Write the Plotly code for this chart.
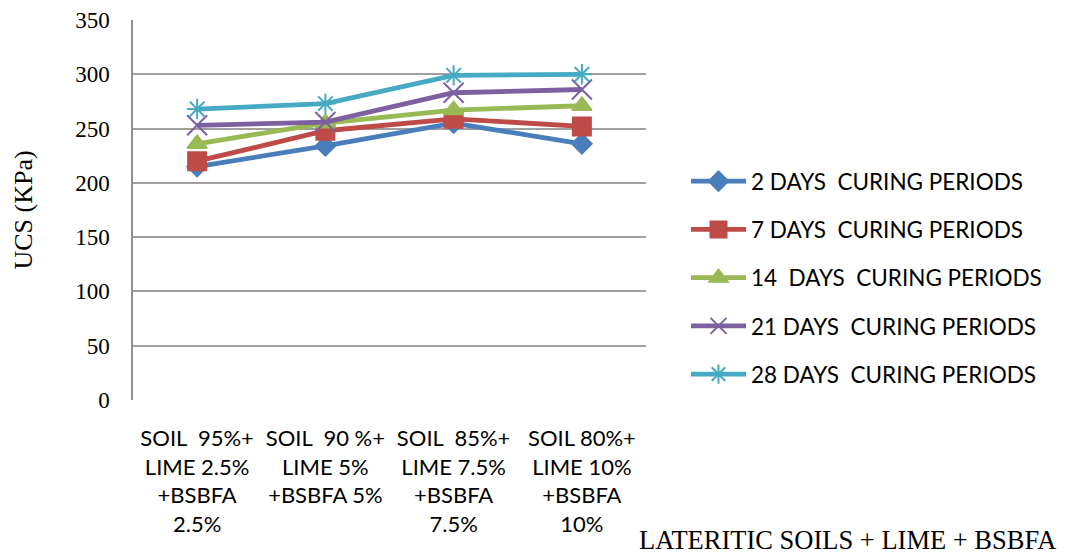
import plotly.graph_objects as go

categories = [
    "SOIL\u00a0 95%+<br>LIME 2.5%<br>+BSBFA<br>2.5%",
    "SOIL\u00a0 90 %+<br>LIME 5%<br>+BSBFA 5%",
    "SOIL\u00a0 85%+<br>LIME 7.5%<br>+BSBFA<br>7.5%",
    "SOIL 80%+<br>LIME 10%<br>+BSBFA<br>10%",
]
series_names = [
    "2 DAYS\u00a0 CURING PERIODS",
    "7 DAYS\u00a0 CURING PERIODS",
    "14\u00a0 DAYS\u00a0 CURING PERIODS",
    "21 DAYS\u00a0 CURING PERIODS",
    "28 DAYS\u00a0 CURING PERIODS",
]
days2 = [215, 234, 255, 236]
days7 = [220, 248, 259, 252]
days14 = [236, 255, 267, 271]
days21 = [253, 256, 283, 286]
days28 = [268, 273, 299, 300]
y_ticks = [0, 50, 100, 150, 200, 250, 300, 350]

values = [days2, days7, days14, days21, days28]
colors = ["#4a7ebb", "#be4b48", "#98b954", "#7d60a0", "#46aac5"]
symbols = ["diamond", "square", "triangle-up", "x-thin-open", "asterisk-open"]
sizes = [15, 18, 17, 20, 17]

fig = go.Figure()
for i, (name, vals) in enumerate(zip(series_names, values)):
    fig.add_trace(go.Scatter(
        x=categories, y=vals, name=name, mode="lines+markers",
        legendgroup=f"g{i}",
        line=dict(color=colors[i], width=4.8),
        marker=dict(symbol=symbols[i], size=sizes[i], color=colors[i],
                    line=dict(color=colors[i], width=2)),
    ))

fig.update_layout(
    width=1066, height=558,
    margin=dict(l=133, r=420, t=20, b=158, autoexpand=False),
    plot_bgcolor="white", paper_bgcolor="white",
    showlegend=True,
    legend=dict(
        x=(686 - 133) / 513, xanchor="left", y=(400 - 160) / 380, yanchor="top",
        font=dict(family="Lato", size=22.5, color="black"),
        tracegroupgap=16, itemwidth=55,
    ),
    xaxis=dict(
        type="category", range=[-0.5, 3.5], showgrid=False, showline=False, zeroline=False,
        ticks="", tickfont=dict(family="Lato", size=22, color="black"),
        ticklabelstandoff=23,
    ),
    yaxis=dict(
        range=[0, 350], tickvals=y_ticks, showgrid=True,
        gridcolor="#a0a0a0", gridwidth=1.5,
        showline=True, linecolor="#909090", linewidth=1.5,
        zeroline=False, ticks="",
        tickfont=dict(family="Liberation Serif", size=23, color="black"),
        ticklabelstandoff=17,
        title=dict(text="UCS (KPa)", font=dict(family="Liberation Serif", size=26, color="black"),
                   standoff=35),
    ),
    annotations=[dict(
        text="LATERITIC SOILS + LIME + BSBFA", xref="paper", yref="paper",
        x=(1058 - 133) / 513, y=-(540 - 400) / 380, xanchor="right", yanchor="middle",
        showarrow=False, font=dict(family="Liberation Serif", size=26.5, color="black"),
    )],
)

fig.write_html("out.html")
